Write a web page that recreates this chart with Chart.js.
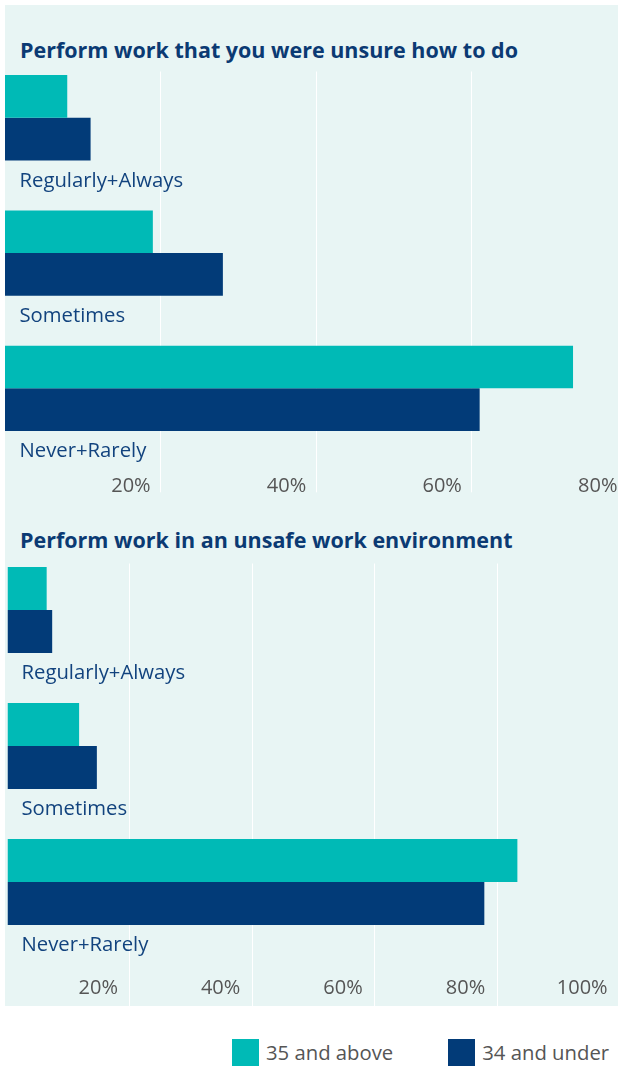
<!DOCTYPE html>
<html>
<head>
<meta charset="utf-8">
<script src="https://cdn.jsdelivr.net/npm/chart.js@4.4.1/dist/chart.umd.min.js"></script>
<style>
  html, body { margin: 0; padding: 0; background: #fff; }
  body { width: 618px; height: 1068px; position: relative; overflow: hidden; font-family: 'Open Sans', sans-serif; }
  .panel { position: absolute; left: 5px; top: 5px; width: 640px; height: 1001px; background: #e8f5f4; }
  .title { position: absolute; left: 20px; font-weight: 700; font-size: 21.5px; line-height: 24px; color: #0b3a73; white-space: nowrap; }
  canvas { position: absolute; left: 0; }
  #legend { position: absolute; top: 1038px; left: 232px; display: flex; gap: 55px; }
  .legend-item { display: flex; align-items: center; gap: 7px; font-size: 20.3px; color: #555; }
  .legend-box { width: 27px; height: 27px; }
</style>
</head>
<body>
<div class="panel"></div>
<div class="title" style="top: 38px;">Perform work that you were unsure how to do</div>
<canvas id="unsureChart" width="640" height="504" style="top: 0;"></canvas>
<div class="title" style="top: 528px;">Perform work in an unsafe work environment</div>
<canvas id="unsafeChart" width="640" height="502" style="top: 504px;"></canvas>
<div id="legend"></div>

<script>
const categories = ['Regularly+Always', 'Sometimes', 'Never+Rarely'];
const seriesNames = ['35 and above', '34 and under'];
const seriesColors = ['#00bab6', '#023b78'];

// share of respondents (%)
const unsureOlder = [8, 19, 73];
const unsureYounger = [11, 28, 61];
const unsafeOlder = [6.4, 11.7, 83.3];
const unsafeYounger = [7.3, 14.6, 77.9];

const FONT = "'Open Sans', sans-serif";

function buildChart(id, older, younger, axisMax, box) {
    const ctx = document.getElementById(id).getContext('2d');
    return new Chart(ctx, {
        type: 'bar',
        data: {
            labels: categories,
            datasets: [
                { label: seriesNames[0], data: older, backgroundColor: seriesColors[0] },
                { label: seriesNames[1], data: younger, backgroundColor: seriesColors[1] },
                // empty third slot keeps room for the category name under each pair
                { label: '', data: categories.map(() => null), backgroundColor: 'rgba(0,0,0,0)' }
            ]
        },
        options: {
            indexAxis: 'y',
            responsive: false,
            animation: false,
            datasets: {
                bar: { categoryPercentage: box.groupShare, barPercentage: 1, borderWidth: 0 }
            },
            layout: { padding: { top: box.top, left: box.left, right: box.right, bottom: 0 } },
            plugins: {
                legend: { display: false },
                tooltip: { enabled: false }
            },
            scales: {
                x: {
                    min: 0,
                    max: axisMax,
                    border: { display: false },
                    grid: { color: '#ffffff', lineWidth: 1, drawTicks: true, tickLength: box.gridBelow },
                    ticks: {
                        stepSize: 20,
                        callback: v => v + '%',
                        align: 'end',
                        labelOffset: box.tickShift,
                        padding: box.tickPad,
                        maxRotation: 0,
                        autoSkip: false,
                        color: '#555555',
                        font: { family: FONT, size: 20 }
                    },
                    // no 0% line or label
                    afterBuildTicks: scale => { scale.ticks = scale.ticks.filter(t => t.value !== 0); },
                    afterFit: scale => { scale.height = box.axisHeight; }
                },
                y: {
                    grid: { display: false },
                    border: { display: false },
                    ticks: {
                        mirror: true,
                        padding: box.labelIndent,
                        labelOffset: box.labelDrop,
                        color: '#12437e',
                        font: { family: FONT, size: 20.3 }
                    },
                    afterFit: scale => { scale.width = 0; }
                }
            }
        }
    });
}

document.addEventListener("DOMContentLoaded", function() {
    buildChart('unsureChart', unsureOlder, unsureYounger, 80, {
        top: 71.5, left: 5, right: 12.5, groupShare: 128.25 / 135.5,
        axisHeight: 26, gridBelow: 15, tickShift: -10, tickPad: -18, labelIndent: 14.5, labelDrop: 41.6
    });
    buildChart('unsafeChart', unsafeOlder, unsafeYounger, 100, {
        top: 59.5, left: 7.5, right: 20.4, groupShare: 129 / 136,
        axisHeight: 34.5, gridBelow: 34.5, tickShift: -12, tickPad: -29.3, labelIndent: 14, labelDrop: 42
    });

    // legend built from the series names and colours
    const legend = document.getElementById('legend');
    seriesNames.forEach((name, i) => {
        const item = document.createElement('div');
        item.className = 'legend-item';
        const swatch = document.createElement('span');
        swatch.className = 'legend-box';
        swatch.style.background = seriesColors[i];
        const text = document.createElement('span');
        text.textContent = name;
        item.appendChild(swatch);
        item.appendChild(text);
        legend.appendChild(item);
    });
});
</script>
</body>
</html>
